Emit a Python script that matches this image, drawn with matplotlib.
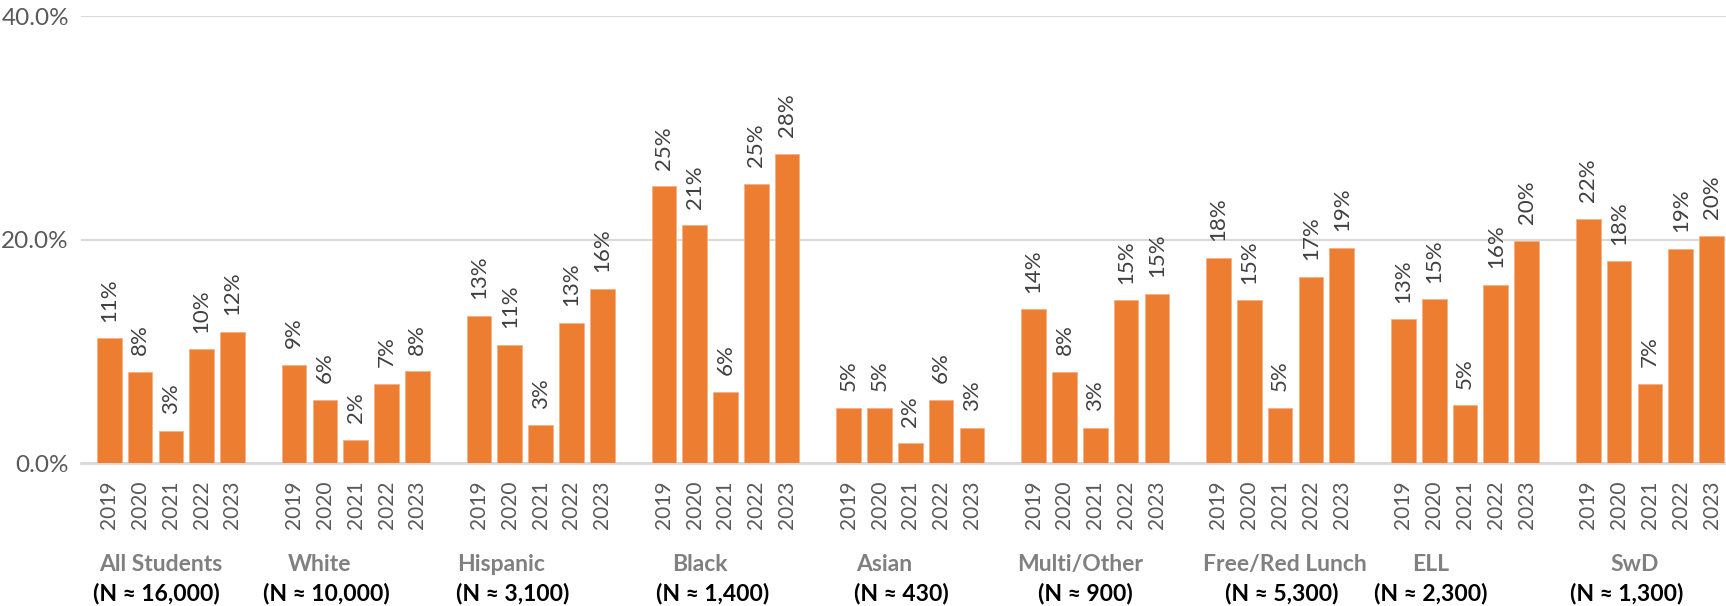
import matplotlib.pyplot as plt
import matplotlib.transforms as mtransforms
from matplotlib.ticker import FuncFormatter

plt.rcParams['font.family'] = ['Lato', 'DejaVu Sans']

years = ["2019", "2020", "2021", "2022", "2023"]
groups = ["All Students", "White", "Hispanic", "Black", "Asian",
          "Multi/Other", "Free/Red Lunch", "ELL", "SwD"]
group_n = ["(N ≈ 16,000)", "(N ≈ 10,000)", "(N ≈ 3,100)", "(N ≈ 1,400)", "(N ≈ 430)",
           "(N ≈ 900)", "(N ≈ 5,300)", "(N ≈ 2,300)", "(N ≈ 1,300)"]

# percent of students per group, one list per year order 2019..2023
all_students = [11.2, 8.2, 2.9, 10.2, 11.8]
white = [8.8, 5.7, 2.1, 7.1, 8.25]
hispanic = [13.2, 10.6, 3.4, 12.6, 15.6]
black = [24.8, 21.3, 6.4, 25.0, 27.7]
asian = [5.0, 5.0, 1.8, 5.7, 3.2]
multi_other = [13.8, 8.2, 3.2, 14.6, 15.2]
free_red_lunch = [18.4, 14.6, 5.0, 16.7, 19.3]
ell = [12.9, 14.7, 5.2, 16.0, 19.9]
swd = [21.9, 18.1, 7.1, 19.2, 20.4]

values = [all_students, white, hispanic, black, asian,
          multi_other, free_red_lunch, ell, swd]

# label placement tweaks (slots relative to group centre)
name_shift = [-0.32, -1.18, -1.29, -0.82, -0.86, -0.5, 0.14, -1.1, -0.5]
n_shift = [-0.46, -0.96, -0.89, -0.43, -0.29, -0.32, 0.04, -1.1, -0.75]

orange = "#ED7D31"
grid_grey = "#D9D9D9"

fig = plt.figure(figsize=(17.26, 6.06), dpi=100)
ax = fig.add_axes([0.0472, 0.2352, 0.9528, 0.7376])

xs, heights, ticklabels = [], [], []
for g, vals in enumerate(values):
    for i, v in enumerate(vals):
        xs.append(g * 6 + i)
        heights.append(v)
        ticklabels.append(years[i])

bars = ax.bar(xs, heights, width=0.8, color=orange, edgecolor="#F4B183",
              linewidth=0.6, zorder=3)
ax.bar_label(bars, labels=[f"{v:.0f}%" for v in heights], padding=12,
             rotation=90, fontsize=16, color="#404040")

ax.set_ylim(0, 40)
ax.set_xlim(-0.9, 52.47)
ax.set_yticks([0, 20, 40])
ax.yaxis.set_major_formatter(FuncFormatter(lambda y, _: f"{y:.1f}%"))
ax.yaxis.grid(True, color=grid_grey, linewidth=1.5, zorder=0)
ax.set_xticks(xs)
ax.set_xticklabels(ticklabels, rotation=90)
ax.tick_params(axis="both", length=0, labelcolor="#595959")
ax.tick_params(axis="x", pad=12, labelsize=15)
ax.tick_params(axis="y", pad=9, labelsize=17.5)

for side in ["top", "right", "left"]:
    ax.spines[side].set_visible(False)
ax.spines["bottom"].set_color(grid_grey)
ax.spines["bottom"].set_linewidth(2)

trans = mtransforms.blended_transform_factory(ax.transData, fig.transFigure)
for g in range(len(groups)):
    centre = g * 6 + 2
    ax.text(centre + name_shift[g], 0.069, groups[g], transform=trans,
            ha="center", va="center", fontsize=16.5, fontweight="bold", color="#808080")
    ax.text(centre + n_shift[g], 0.021, group_n[g], transform=trans,
            ha="center", va="center", fontsize=16.5, fontweight="bold", color="black")

fig.savefig("out.png", dpi=100)
